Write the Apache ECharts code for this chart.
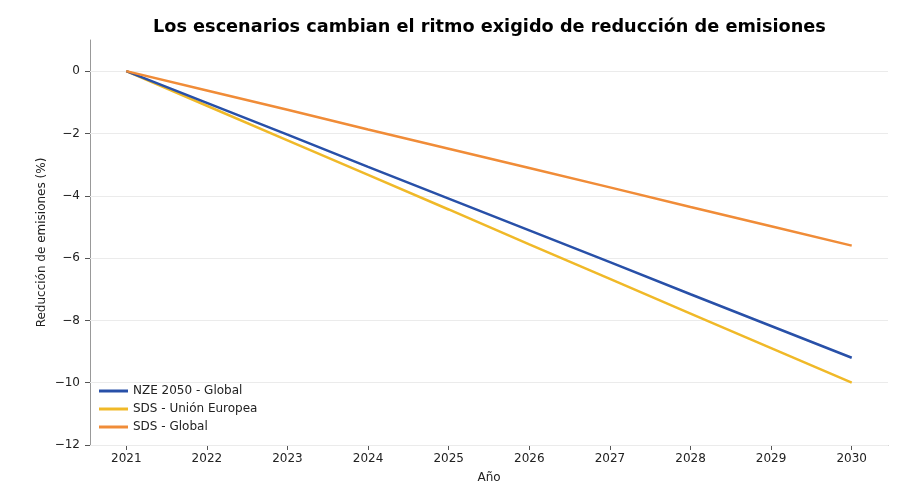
<!DOCTYPE html>
<html>
<head>
<meta charset="utf-8">
<script src="https://cdn.jsdelivr.net/npm/echarts@6/dist/echarts.min.js"></script>
<style>
  html, body { margin: 0; padding: 0; background: #fff; }
  #chart { width: 917px; height: 498px; }
</style>
</head>
<body>
<div id="chart"></div>
<script>
var years = [2021, 2022, 2023, 2024, 2025, 2026, 2027, 2028, 2029, 2030];
var nzeGlobal = [0, -1.02, -2.04, -3.07, -4.09, -5.11, -6.13, -7.16, -8.18, -9.2];
var sdsUE = [0, -1.11, -2.22, -3.33, -4.44, -5.56, -6.67, -7.78, -8.89, -10.0];
var sdsGlobal = [0, -0.62, -1.24, -1.87, -2.49, -3.11, -3.73, -4.36, -4.98, -5.6];
var yTicks = [0, -2, -4, -6, -8, -10, -12];

function pairs(vals) {
    return years.map(function (y, i) { return [y, vals[i]]; });
}

var font = 'DejaVu Sans';
var lineStyle = { width: 2.5 };

var option = {
    backgroundColor: '#fff',
    animation: false,
    textStyle: { fontFamily: font },
    title: {
        text: 'Los escenarios cambian el ritmo exigido de reducción de emisiones',
        left: 148,
        top: 13,
        textStyle: { fontFamily: font, fontSize: 17.7, fontWeight: 'bold', color: '#000' }
    },
    legend: {
        orient: 'vertical',
        left: 94,
        top: 380,
        itemWidth: 29,
        itemHeight: 3,
        itemGap: 6,
        icon: 'rect',
        textStyle: { fontFamily: font, fontSize: 12, color: '#222' },
        data: ['NZE 2050 - Global', 'SDS - Unión Europea', 'SDS - Global']
    },
    grid: { left: 90, right: 29, top: 40, bottom: 53 },
    xAxis: {
        type: 'value',
        min: 2020.55,
        max: 2030.45,
        name: 'Año',
        nameLocation: 'middle',
        nameGap: 27,
        nameMoveOverlap: false,
        nameTextStyle: { fontFamily: font, fontSize: 12, color: '#222' },
        axisLine: { onZero: false, lineStyle: { color: '#999', width: 1 } },
        axisTick: { show: true, length: 5, customValues: years, lineStyle: { color: '#555' } },
        splitLine: { show: false },
        axisLabel: {
            fontFamily: font, fontSize: 12, color: '#222', margin: 8,
            customValues: years,
            formatter: function (v) { return String(v); }
        }
    },
    yAxis: {
        type: 'value',
        min: -12,
        max: 1,
        name: 'Reducción de emisiones (%)',
        nameLocation: 'middle',
        nameGap: 42,
        nameMoveOverlap: false,
        nameTextStyle: { fontFamily: font, fontSize: 12, color: '#222' },
        axisLine: { show: true, lineStyle: { color: '#999', width: 1 } },
        axisTick: { show: true, length: 5, customValues: yTicks, lineStyle: { color: '#555' } },
        splitLine: { show: false },
        axisLabel: {
            fontFamily: font, fontSize: 12, color: '#222', margin: 10,
            customValues: yTicks,
            formatter: function (v) { return String(v).replace('-', '\u2212'); }
        }
    },
    series: [
        {
            name: 'NZE 2050 - Global', type: 'line', showSymbol: false,
            color: '#2850a8', lineStyle: lineStyle, data: pairs(nzeGlobal), z: 3,
            markLine: {
                silent: true, symbol: 'none', label: { show: false },
                lineStyle: { color: '#ebebeb', width: 1, type: 'solid' },
                data: yTicks.map(function (t) { return { yAxis: t }; }),
                z: 1
            }
        },
        {
            name: 'SDS - Unión Europea', type: 'line', showSymbol: false,
            color: '#f0b928', lineStyle: lineStyle, data: pairs(sdsUE), z: 2
        },
        {
            name: 'SDS - Global', type: 'line', showSymbol: false,
            color: '#f08c38', lineStyle: lineStyle, data: pairs(sdsGlobal), z: 4
        }
    ]
};

var chart = echarts.init(document.getElementById('chart'));
chart.setOption(option);
</script>
</body>
</html>
